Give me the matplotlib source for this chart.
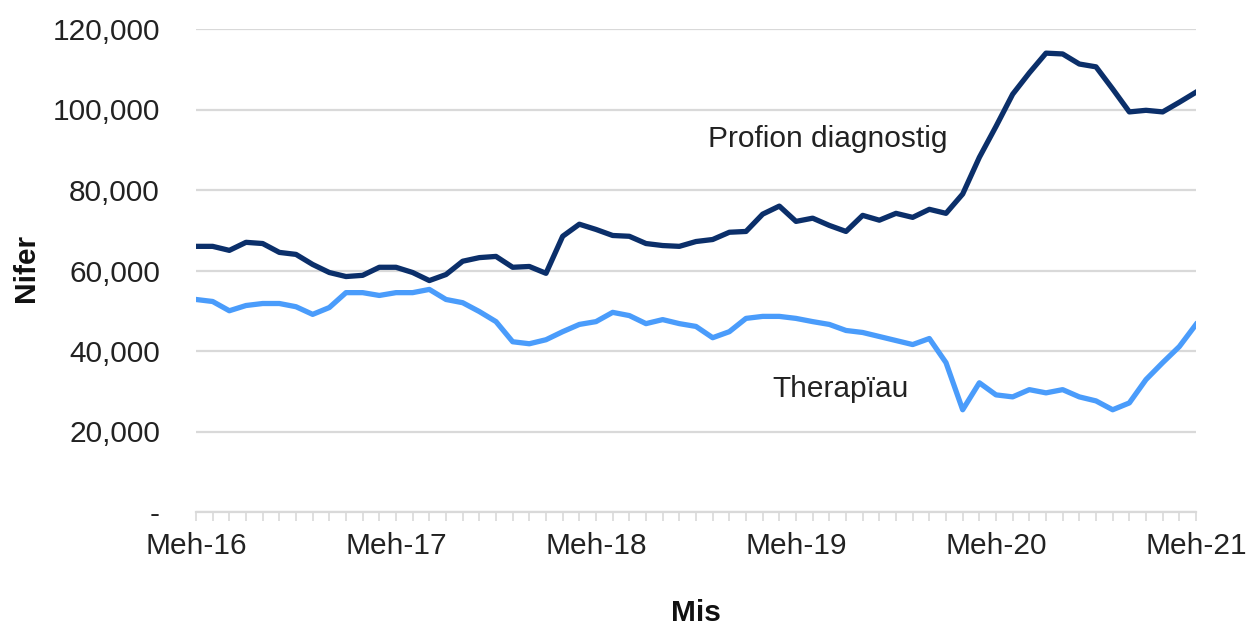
import matplotlib
matplotlib.use("Agg")
import matplotlib.pyplot as plt
from matplotlib.ticker import FuncFormatter, MultipleLocator

plt.rcParams['font.family'] = ['Liberation Sans', 'DejaVu Sans']

# Monthly data, Meh-16 (Mar 2016) .. Meh-21 (Mar 2021)
diagnostig = [66000, 66000, 65000, 67000, 66700, 64500, 64000, 61500, 59500, 58500,
              58800, 60800, 60800, 59500, 57500, 59000, 62300, 63200, 63500, 60800,
              61000, 59300, 68500, 71500, 70200, 68700, 68500, 66700, 66200, 66000,
              67200, 67700, 69500, 69700, 74000, 76000, 72200, 73000, 71200, 69700,
              73700, 72500, 74200, 73200, 75200, 74200, 79000, 88100, 95800, 103800,
              109100, 114000, 113800, 111300, 110600, 105100, 99400, 99800, 99400, 101800,
              104300]
therapiau = [52800, 52300, 50000, 51300, 51800, 51800, 51000, 49100, 50800, 54500,
             54500, 53800, 54500, 54500, 55300, 52800, 52000, 49800, 47300, 42300,
             41800, 42800, 44800, 46600, 47300, 49600, 48800, 46800, 47800, 46800,
             46100, 43300, 44800, 48100, 48600, 48600, 48100, 47300, 46600, 45100,
             44600, 43600, 42600, 41600, 43100, 37100, 25400, 32100, 29100, 28600,
             30400, 29600, 30400, 28600, 27600, 25400, 27100, 32900, 37100, 41100,
             46600]
tick_labels = ['Meh-16', 'Meh-17', 'Meh-18', 'Meh-19', 'Meh-20', 'Meh-21']
y_ticks = [0, 20000, 40000, 60000, 80000, 100000, 120000]
series_labels = ['Profion diagnostig', 'Therapïau']

months = list(range(len(diagnostig)))

W, H = 1255, 626
fig = plt.figure(figsize=(W / 100, H / 100), dpi=100)
ax = fig.add_axes([196 / W, 1 - 512 / H, 1000 / W, (512 - 29) / H])

fs = 21.5
grid_c = '#d9d9d9'
ax.plot(months, diagnostig, color='#0b2f6a', lw=3.8, solid_joinstyle='round', zorder=3)
ax.plot(months, therapiau, color='#4a9cfb', lw=3.8, solid_joinstyle='round', zorder=3)

ax.set_xlim(0, 60)
ax.set_ylim(0, 120000)
ax.set_yticks(y_ticks)
ax.yaxis.set_major_formatter(FuncFormatter(lambda v, p: '-' if v == 0 else f'{int(v):,}'))
ax.grid(axis='y', color=grid_c, lw=1.6, zorder=0)
ax.set_axisbelow(True)

ax.set_xticks(range(0, 61, 12))
ax.set_xticklabels(tick_labels)
ax.xaxis.set_minor_locator(MultipleLocator(1))

for s in ['top', 'right', 'left']:
    ax.spines[s].set_visible(False)
ax.spines['bottom'].set_color(grid_c)
ax.spines['bottom'].set_linewidth(1.6)

ax.tick_params(axis='y', length=0, pad=26, labelsize=fs, labelcolor='#222222')
ax.tick_params(axis='x', which='both', length=6.5, width=1.2, color=grid_c,
               direction='out', pad=8, labelsize=fs, labelcolor='#222222')

ax.set_ylabel('Nifer', fontsize=fs, fontweight='bold', color='#111111')
ax.set_xlabel('Mis', fontsize=fs, fontweight='bold', labelpad=28, color='#111111')
ax.yaxis.set_label_coords(-0.156, 0.506)

ax.text(30.7, 90600, series_labels[0], fontsize=fs, ha='left', va='baseline', color='#222222')
ax.text(34.6, 28600, series_labels[1], fontsize=fs, ha='left', va='baseline', color='#222222')

fig.savefig('out.png', dpi=100)
